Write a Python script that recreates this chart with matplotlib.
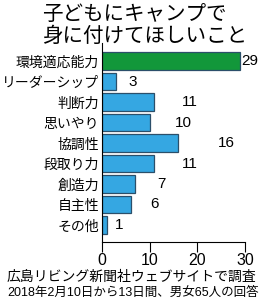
import matplotlib.pyplot as plt
from matplotlib import font_manager

# Data
categories = ["環境適応能力", "リーダーシップ", "判断力", "思いやり", "協調性",
              "段取り力", "創造力", "自主性", "その他"]
values = [29, 3, 11, 10, 16, 11, 7, 6, 1]
ticks = [0, 10, 20, 30]
title_lines = ["子どもにキャンプで", "身に付けてほしいこと"]
note_lines = ["広島リビング新聞社ウェブサイトで調査",
              "2018年2月10日から13日間、男女65人の回答"]

jp = "Noto Sans CJK JP"
names = {f.name for f in font_manager.fontManager.ttflist}
num = "Liberation Sans Narrow" if "Liberation Sans Narrow" in names else "Liberation Sans"
plt.rcParams["font.family"] = [jp, "DejaVu Sans"]

fig = plt.figure(figsize=(2.6, 3.04), dpi=100)
ax = fig.add_axes([102 / 260, 1 - 242 / 304, 143 / 260, 199 / 304])

colors = ["#12973a"] + ["#35a7e2"] * (len(values) - 1)
ypos = list(range(len(values)))
ax.barh(ypos, values, height=0.84, color=colors, edgecolor="#2b4f6a", linewidth=0.9)

ax.set_xlim(0, 30)
ax.set_ylim(8.83, -0.88)
ax.set_xticks(ticks)
ax.set_xticklabels([str(t) for t in ticks], fontfamily=num, fontsize=11.5)
ax.set_yticks(ypos)
ax.set_yticklabels(categories, fontsize=10)
ax.tick_params(axis="y", length=0, pad=2)
ax.tick_params(axis="x", direction="out", length=7, width=0.8, pad=1)
for s in ["top", "right"]:
    ax.spines[s].set_visible(False)
ax.spines["left"].set_linewidth(0.8)
ax.spines["bottom"].set_linewidth(0.8)

vmax = max(values)
for y, v in zip(ypos, values):
    if v == vmax:
        ax.text(v + 0.3, y, str(v), ha="left", va="center", fontsize=11,
                fontfamily=num, clip_on=False)
    else:
        ax.text(1.5 * v + 2, y, str(v), ha="center", va="center", fontsize=11,
                fontfamily=num)

fig.text(42 / 260, 1 - 14 / 304, title_lines[0], fontsize=14.8, ha="left", va="center")
fig.text(42 / 260, 1 - 36 / 304, title_lines[1], fontsize=14.8, ha="left", va="center")
fig.text(7 / 260, 1 - 277 / 304, note_lines[0], fontsize=10, ha="left", va="center")
fig.text(7 / 260, 1 - 293 / 304, note_lines[1], fontsize=9, ha="left", va="center",
         family=[num, jp])

fig.savefig("out.png", dpi=100)
